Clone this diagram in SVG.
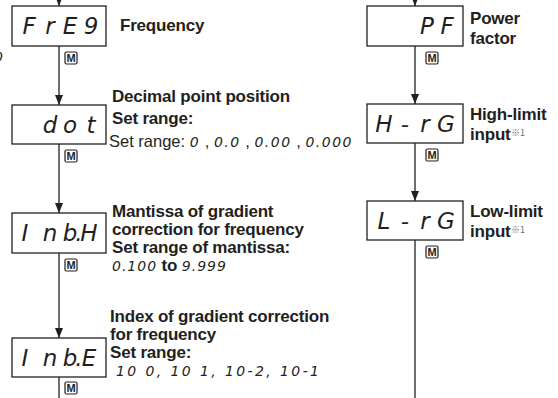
<svg xmlns="http://www.w3.org/2000/svg" width="558" height="398" viewBox="0 0 558 398">
<defs>
<style>
.box{fill:#fff;stroke:#231f20;stroke-width:1.3}
.ln{fill:none;stroke:#231f20;stroke-width:1.3}
.seg{font-family:"DejaVu Sans",sans-serif;font-weight:200;font-style:italic;font-size:23px;fill:#231f20;text-anchor:middle}
.sseg{font-family:"DejaVu Sans",sans-serif;font-weight:200;font-style:italic;font-size:14px;fill:#231f20;letter-spacing:1.5px}
.bseg{font-family:"DejaVu Sans",sans-serif;font-weight:normal;font-style:italic;font-size:14px;fill:#231f20;letter-spacing:1px}
.lbl{font-family:"Liberation Sans",Arial,sans-serif;font-weight:bold;font-size:17px;fill:#231f20;letter-spacing:-0.2px}
.reg{font-family:"Liberation Sans",Arial,sans-serif;font-weight:normal;font-size:16.5px;fill:#231f20}
.sup{font-family:"Noto Sans CJK JP","Liberation Sans",sans-serif;font-size:9px;fill:#6d6e70;font-weight:normal}
.mk rect{fill:#fff;stroke:#231f20;stroke-width:1.2}
.mk text{font-family:"Liberation Sans",Arial,sans-serif;font-weight:bold;font-size:11px;fill:#231f20;text-anchor:middle}
</style>
<marker id="ah" markerUnits="userSpaceOnUse" markerWidth="10" markerHeight="10" refX="10" refY="4" orient="auto">
<path d="M0,0 L10,4 L0,8 z" fill="#231f20"/>
</marker>
<g id="mkey" class="mk"><rect x="0" y="0" width="12" height="12" rx="1.5"/><text x="6" y="10.2">M</text></g>
</defs>
<rect width="558" height="398" fill="#fff"/>

<g id="connectors">
<path class="ln" d="M59,-12 V6" marker-end="url(#ah)"/>
<path class="ln" d="M59,46 V105" marker-end="url(#ah)"/>
<path class="ln" d="M59,144 V213" marker-end="url(#ah)"/>
<path class="ln" d="M59,253 V338" marker-end="url(#ah)"/>
<path class="ln" d="M59,377 V398"/>
<path class="ln" d="M415,-12 V6" marker-end="url(#ah)"/>
<path class="ln" d="M415,46 V104" marker-end="url(#ah)"/>
<path class="ln" d="M415,143 V201" marker-end="url(#ah)"/>
<path class="ln" d="M415,240 V398"/>
<use href="#mkey" x="65" y="52"/>
<use href="#mkey" x="65" y="150"/>
<use href="#mkey" x="65" y="259"/>
<use href="#mkey" x="65" y="382"/>
<use href="#mkey" x="426" y="52"/>
<use href="#mkey" x="426" y="149"/>
<use href="#mkey" x="426" y="246"/>
</g>

<text class="sseg" x="-6" y="62">0</text>

<g id="freq">
<rect class="box" x="12" y="6" width="94" height="40"/>
<text class="seg" x="29 50 70 91" y="34">FrE9</text>
<text class="lbl" x="120" y="31">Frequency</text>
</g>

<g id="dot">
<rect class="box" x="12" y="105" width="94" height="39"/>
<text class="seg" x="50 70 91" y="133">dot</text>
<text class="lbl" x="112" y="102">Decimal point position</text>
<text class="lbl" x="112" y="124">Set range:</text>
<text class="reg" x="109" y="147">Set range: <tspan class="sseg">0</tspan> , <tspan class="sseg">0.0</tspan> , <tspan class="sseg">0.00</tspan> , <tspan class="sseg">0.000</tspan></text>
</g>

<g id="inbh">
<rect class="box" x="12" y="213" width="94" height="40"/>
<text class="seg" x="25 50 70 79 89" y="241">Inb.H</text>
<text class="lbl" x="112" y="217">Mantissa of gradient</text>
<text class="lbl" x="112" y="235">correction for frequency</text>
<text class="lbl" x="112" y="253">Set range of mantissa:</text>
<text class="lbl" x="112" y="271"><tspan class="bseg">0.100</tspan> to <tspan class="bseg">9.999</tspan></text>
</g>

<g id="inbe">
<rect class="box" x="12" y="338" width="94" height="39"/>
<text class="seg" x="25 50 70 79 89" y="366">Inb.E</text>
<text class="lbl" x="110" y="322">Index of gradient correction</text>
<text class="lbl" x="110" y="340">for frequency</text>
<text class="lbl" x="110" y="358">Set range:</text>
<text class="sseg" x="116" y="376" style="letter-spacing:2.4px">10 0, 10 1, 10-2, 10-1</text>
</g>

<g id="pf">
<rect class="box" x="367" y="6" width="96" height="40"/>
<text class="seg" x="427 447" y="34">PF</text>
<text class="lbl" x="470" y="24">Power</text>
<text class="lbl" x="470" y="44">factor</text>
</g>

<g id="hrg">
<rect class="box" x="367" y="104" width="96" height="39"/>
<text class="seg" x="384 405 425 446" y="132">H-rG</text>
<text class="lbl" x="470" y="120">High-limit</text>
<text class="lbl" x="470" y="140">input</text>
<text class="sup" x="511" y="136">※1</text>
</g>

<g id="lrg">
<rect class="box" x="367" y="201" width="96" height="39"/>
<text class="seg" x="384 405 425 446" y="229">L-rG</text>
<text class="lbl" x="470" y="217">Low-limit</text>
<text class="lbl" x="470" y="237">input</text>
<text class="sup" x="511" y="233">※1</text>
</g>
</svg>
